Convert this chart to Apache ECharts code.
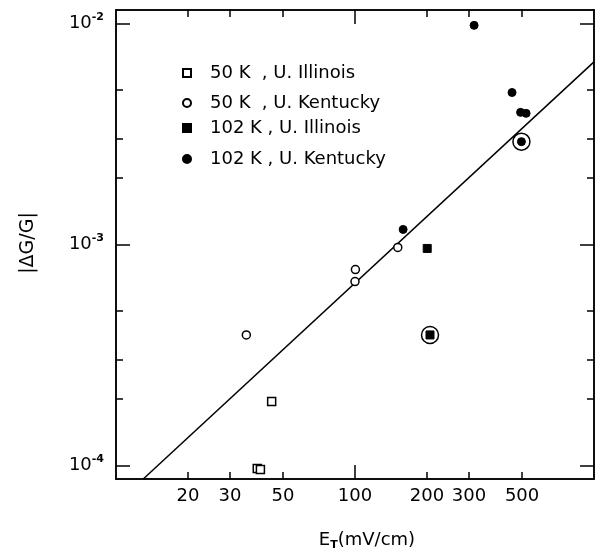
<!DOCTYPE html>
<html><head><meta charset="utf-8">
<script src="https://cdn.jsdelivr.net/npm/echarts@6/dist/echarts.min.js"></script>
<style>html,body{margin:0;padding:0;background:#fff}#c{width:595px;height:550px}</style>
</head><body><div id="c"></div>
<script>
// ---- data ----
const il50Name = '50 K  , U. Illinois';
const ky50Name = '50 K  , U. Kentucky';
const il102Name = '102 K , U. Illinois';
const ky102Name = '102 K , U. Kentucky';

const il50X = [39.0, 40.2, 44.8];
const il50Y = [9.7e-5, 9.6e-5, 1.95e-4];
const ky50X = [35.1, 100.4, 100.0, 151];
const ky50Y = [3.9e-4, 7.7e-4, 6.8e-4, 9.7e-4];
const il102X = [200.5, 206];
const il102Y = [9.6e-4, 3.9e-4];
const ky102X = [159, 315, 454, 493, 520, 497];
const ky102Y = [1.17e-3, 9.8e-3, 4.87e-3, 3.96e-3, 3.92e-3, 2.92e-3];

// circled points (indices into the series above)
const ringIl102 = [1];
const ringKy102 = [5];

// fitted straight line (endpoints)
const fitX = [13, 1000];
const fitY = [8.7e-5, 6.7e-3];

// axes
const xMin = 10, xMax = 1000;
const yMin = 8.7e-5, yMax = 1.15e-2;
const xTickLabels = [20, 30, 50, 100, 200, 300, 500];
const xMajorTicks = [100];
const xMinorTicks = [20, 30, 50, 200, 300, 500];
const yTickLabels = [1e-4, 1e-3, 1e-2];
const yMajorTicks = [1e-4, 1e-3, 1e-2];
const yMinorTicks = [2e-4, 3e-4, 5e-4, 2e-3, 3e-3, 5e-3];

const FONT = 'DejaVu Sans';
const zip = (xs, ys) => xs.map((x, i) => [x, ys[i]]);

function xAx(position, ticks, len, labels) {
  return {
    type: 'log', min: xMin, max: xMax, position: position,
    axisLine: { show: true, lineStyle: { color: '#000', width: 1.5 } },
    axisTick: { show: true, inside: true, length: len, customValues: ticks, lineStyle: { color: '#000', width: 1.5 } },
    axisLabel: labels ? { show: true, customValues: labels, formatter: v => String(Math.round(v)), color: '#000', fontFamily: FONT, fontSize: 18, margin: 8 } : { show: false },
    splitLine: { show: false }, minorTick: { show: false }
  };
}
function yAx(position, ticks, len, labels) {
  return {
    type: 'log', min: yMin, max: yMax, position: position,
    axisLine: { show: true, lineStyle: { color: '#000', width: 1.5 } },
    axisTick: { show: true, inside: true, length: len, customValues: ticks, lineStyle: { color: '#000', width: 1.5 } },
    axisLabel: labels ? {
      show: true, customValues: labels, margin: 12,
      formatter: v => '{b|10}{s|-' + Math.round(-Math.log10(v)) + '}',
      rich: {
        b: { fontFamily: FONT, fontSize: 18, color: '#000', lineHeight: 24 },
        s: { fontFamily: FONT, fontSize: 11, fontWeight: 'bold', color: '#000', lineHeight: 11, verticalAlign: 'top' }
      }
    } : { show: false },
    splitLine: { show: false }, minorTick: { show: false }
  };
}

const openStyle = { color: '#fff', borderColor: '#000', borderWidth: 1.5, opacity: 1 };
const fillStyle = { color: '#000', borderColor: '#000', borderWidth: 1, opacity: 1 };

const chart = echarts.init(document.getElementById('c'), null, { renderer: 'canvas' });
chart.setOption({
  animation: false,
  backgroundColor: '#fff',
  grid: { left: 116, right: 1, top: 10, bottom: 71 },
  xAxis: [
    xAx('bottom', xMajorTicks, 14, xTickLabels),
    xAx('bottom', xMinorTicks, 7, null),
    xAx('top', xMajorTicks, 14, null),
    xAx('top', xMinorTicks, 7, null)
  ],
  yAxis: [
    yAx('left', yMajorTicks, 14, yTickLabels),
    yAx('left', yMinorTicks, 7, null),
    yAx('right', yMajorTicks, 14, null),
    yAx('right', yMinorTicks, 7, null)
  ],
  legend: [
    { data: [il50Name], top: 63 },
    { data: [ky50Name], top: 93 },
    { data: [il102Name], top: 118 },
    { data: [ky102Name], top: 149 }
  ].map(l => Object.assign({
    left: 182, orient: 'vertical', padding: 0, itemWidth: 8, itemHeight: 8,
    selectedMode: false,
    textStyle: { fontFamily: FONT, fontSize: 18, color: '#000', padding: [0, 0, 0, 14], lineHeight: 20 }
  }, l)),
  series: [
    { type: 'line', data: zip(fitX, fitY), showSymbol: false, symbol: 'none',
      lineStyle: { color: '#000', width: 1.5 }, z: 1, silent: true },
    { name: il50Name, type: 'scatter', symbol: 'rect', symbolSize: 8, data: zip(il50X, il50Y), itemStyle: openStyle, z: 3 },
    { name: ky50Name, type: 'scatter', symbol: 'circle', symbolSize: 8, data: zip(ky50X, ky50Y), itemStyle: openStyle, z: 3 },
    { name: il102Name, type: 'scatter', symbol: 'rect', symbolSize: 8, data: zip(il102X, il102Y), itemStyle: fillStyle, z: 3 },
    { name: ky102Name, type: 'scatter', symbol: 'circle', symbolSize: 8, data: zip(ky102X, ky102Y), itemStyle: fillStyle, z: 3 },
    { type: 'scatter', symbol: 'circle', symbolSize: 17,
      data: ringIl102.map(i => [il102X[i], il102Y[i]]).concat(ringKy102.map(i => [ky102X[i], ky102Y[i]])),
      itemStyle: { color: 'rgba(0,0,0,0)', borderColor: '#000', borderWidth: 1.5, opacity: 1 }, z: 2, silent: true }
  ],
  graphic: [
    { type: 'text', x: 28, y: 243, rotation: Math.PI / 2,
      style: { text: '|ΔG/G|', fontFamily: FONT, fontSize: 19, fill: '#000', align: 'center', verticalAlign: 'middle' } },
    { type: 'text', x: 367, y: 540,
      style: { text: '{m|E}{t|T}{m|(mV/cm)}', align: 'center', verticalAlign: 'middle',
        rich: {
          m: { fontFamily: FONT, fontSize: 18, fill: '#000', lineHeight: 22 },
          t: { fontFamily: FONT, fontSize: 11, fill: '#000', fontWeight: 'bold', lineHeight: 11, verticalAlign: 'bottom' }
        } } }
  ]
});
</script>
</body></html>
